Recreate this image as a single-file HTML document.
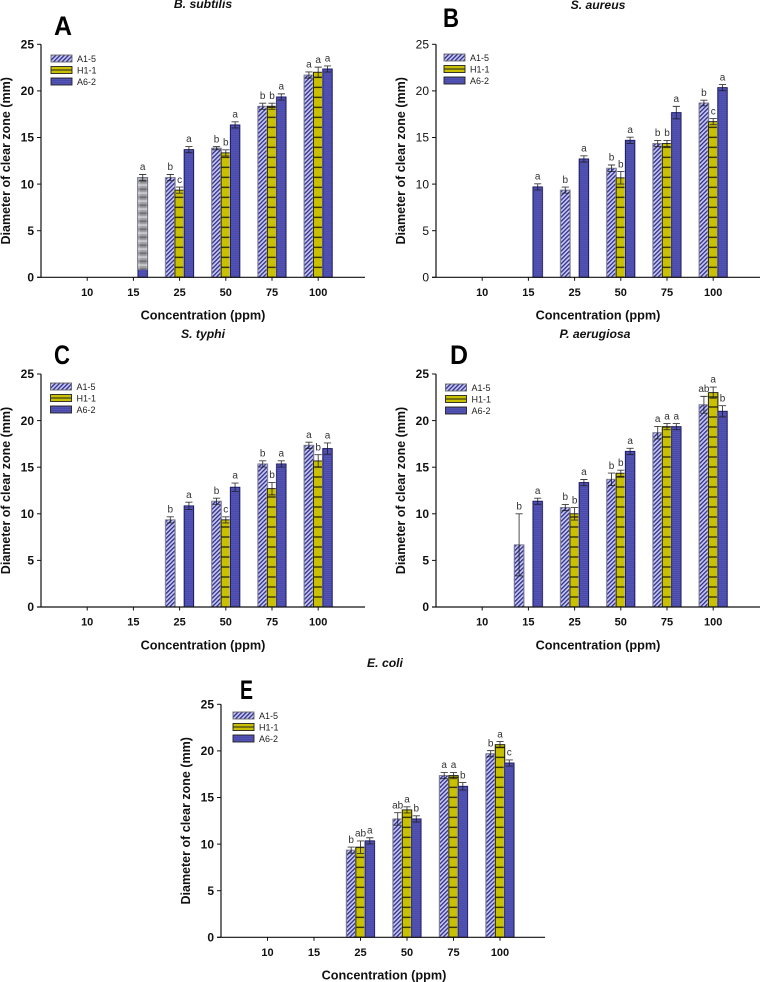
<!DOCTYPE html>
<html lang="en">
<head>
<meta charset="utf-8">
<title>Diameter of clear zone by concentration</title>
<style>
html,body{margin:0;padding:0;background:#fff;}
#figure{display:block;width:760px;height:982px;font-family:"Liberation Sans",Arial,sans-serif;filter:blur(0.35px);}
</style>
</head>
<body>
<svg id="figure" xmlns="http://www.w3.org/2000/svg" width="760" height="982" viewBox="0 0 760 982">
<defs>
<pattern id="hatch" patternUnits="userSpaceOnUse" width="3" height="3" patternTransform="rotate(45)">
<rect width="3" height="3" fill="#c8c8f0"/>
<rect width="1.3" height="3" fill="#2c2c8e"/>
</pattern>
<pattern id="hbars" patternUnits="userSpaceOnUse" width="10" height="10">
<rect width="10" height="10" fill="#c8c000"/>
<rect y="2.4" width="10" height="1.2" fill="#1c1c00"/>
</pattern>
<pattern id="blue" patternUnits="userSpaceOnUse" width="4" height="2">
<rect width="4" height="2" fill="#4a4aab"/>
<rect y="0" width="4" height="0.7" fill="#5858b8"/>
</pattern>
<pattern id="grid" patternUnits="userSpaceOnUse" width="9.3" height="8">
<rect width="9.3" height="8" fill="#a0a0a0"/>
<rect y="0" width="9.3" height="2" fill="#707070"/>
<rect y="4" width="9.3" height="1.6" fill="#cfcfcf"/>
<rect x="3" width="3" height="8" fill="#fff" opacity="0.25"/>
</pattern>
</defs>
</svg>
<script>
// Shared chart data
const categories = ['10', '15', '25', '50', '75', '100'];
const yTickLabels = [0, 5, 10, 15, 20, 25];
const seriesNames = ['A1-5', 'H1-1', 'A6-2'];

// Panel A - B. subtilis
const aA1 = [null, null, 10.7, 13.85, 18.35, 21.7];
const aH1 = [null, null, 9.35, 13.35, 18.35, 22];
const aA6 = [null, 10.7, 13.7, 16.35, 19.35, 22.35];
const aA1Err = [0, 0, 0.33, 0.17, 0.33, 0.33];
const aH1Err = [0, 0, 0.33, 0.33, 0.33, 0.55];
const aA6Err = [0, 0.33, 0.33, 0.33, 0.33, 0.33];
const aA1Let = ['', '', 'b', 'b', 'b', 'a'];
const aH1Let = ['', '', 'c', 'b', 'b', 'a'];
const aA6Let = ['', 'a', 'a', 'a', 'a', 'a'];

// Panel B - S. aureus
const bA1 = [null, null, 9.35, 11.7, 14.35, 18.7];
const bH1 = [null, null, null, 10.67, 14.35, 16.7];
const bA6 = [null, 9.7, 12.7, 14.7, 17.67, 20.35];
const bA1Err = [0, 0, 0.33, 0.35, 0.33, 0.3];
const bH1Err = [0, 0, 0, 0.67, 0.33, 0.33];
const bA6Err = [0, 0.33, 0.33, 0.33, 0.67, 0.33];
const bA1Let = ['', '', 'b', 'b', 'b', 'b'];
const bH1Let = ['', '', '', 'b', 'b', 'c'];
const bA6Let = ['', 'a', 'a', 'a', 'a', 'a'];

// Panel C - S. typhi
const cA1 = [null, null, 9.35, 11.35, 15.35, 17.35];
const cH1 = [null, null, null, 9.35, 12.7, 15.67];
const cA6 = [null, null, 10.85, 12.85, 15.35, 17];
const cA1Err = [0, 0, 0.33, 0.33, 0.33, 0.33];
const cH1Err = [0, 0, 0, 0.33, 0.67, 0.67];
const cA6Err = [0, 0, 0.4, 0.45, 0.33, 0.6];
const cA1Let = ['', '', 'b', 'b', 'b', 'a'];
const cH1Let = ['', '', '', 'c', 'b', 'b'];
const cA6Let = ['', '', 'a', 'a', 'a', 'a'];

// Panel D - P. aerugiosa
const dA1 = [null, 6.67, 10.67, 13.7, 18.7, 21.7];
const dH1 = [null, null, 10, 14.35, 19.35, 23];
const dA6 = [null, 11.35, 13.35, 16.7, 19.35, 21];
const dA1Err = [0, 3.33, 0.33, 0.67, 0.67, 0.9];
const dH1Err = [0, 0, 0.67, 0.33, 0.33, 0.6];
const dA6Err = [0, 0.33, 0.33, 0.33, 0.33, 0.6];
const dA1Let = ['', 'b', 'b', 'b', 'a', 'ab'];
const dH1Let = ['', '', 'b', 'b', 'a', 'a'];
const dA6Let = ['', 'a', 'a', 'a', 'a', 'b'];

// Panel E - E. coli
const eA1 = [null, null, 9.35, 12.7, 17.35, 19.7];
const eH1 = [null, null, 9.67, 13.67, 17.35, 20.67];
const eA6 = [null, null, 10.35, 12.7, 16.2, 18.7];
const eA1Err = [0, 0, 0.33, 0.67, 0.33, 0.33];
const eH1Err = [0, 0, 0.67, 0.33, 0.33, 0.33];
const eA6Err = [0, 0, 0.33, 0.33, 0.4, 0.33];
const eA1Let = ['', '', 'b', 'ab', 'a', 'b'];
const eH1Let = ['', '', 'ab', 'a', 'a', 'a'];
const eA6Let = ['', '', 'a', 'b', 'b', 'c'];

// Grey-patterned section of the 15 ppm bar in panel A (value range)
const aGreyRange = [0.8, 10.7];

const NS = 'http://www.w3.org/2000/svg';
const root = document.getElementById('figure');
const fills = ['url(#hatch)', 'url(#hbars)', 'url(#blue)'];
const strokes = ['#77778f', '#1b1b10', '#1a1a66'];
const W = 324, H = 233, BAR = 9.3;

function yPos(v) { return H - (v / 25) * H; }

function make(tag, attrs, parent, text) {
  const el = document.createElementNS(NS, tag);
  for (const k in attrs) el.setAttribute(k, attrs[k]);
  if (text !== undefined) el.textContent = text;
  parent.appendChild(el);
  return el;
}

function drawPanel(p) {
  const xPos = function (i) { return (i + 1) * p.step; };
  const g = make('g', { transform: 'translate(' + p.x + ',' + p.y + ')' }, root);
  
  

  const letter = make('text', { x: p.letterX - p.x, y: p.letterY - p.y, 'font-size': 27, 'font-weight': 'bold', fill: '#000', textLength: p.letterW, lengthAdjust: 'spacingAndGlyphs' }, g, p.key.toUpperCase());
  
  

  const title = make('text', { x: p.titleX - p.x, y: p.titleY - p.y, 'font-size': 12.2, 'font-weight': 'bold', 'font-style': 'italic', 'text-anchor': 'middle', fill: '#111' }, g, p.title);
  
  

  // bars
  p.values.forEach(function (vals, s) {
    vals.forEach(function (v, i) {
      if (v === null) return;
      const bx = xPos(i) + (s - 1.5) * BAR;
      const shade = make('rect', { x: bx - 0.9, y: yPos(v) - 0.4, width: BAR + 1.8, height: H - yPos(v) + 0.4, fill: '#bdbdc4' }, g);
      
      
      const bar = make('rect', { x: bx, y: yPos(v), width: BAR, height: H - yPos(v), fill: fills[s], stroke: strokes[s], 'stroke-width': 0.9 }, g);
      
      
    });
  });

  // grey overlay section
  if (p.grey) {
    const bx = xPos(1) + 0.5 * BAR;
    const patch = make('rect', { x: bx, y: yPos(p.grey[1]), width: BAR, height: yPos(p.grey[0]) - yPos(p.grey[1]), fill: 'url(#grid)' }, g);
    
    
  }

  // error bars and significance letters
  p.values.forEach(function (vals, s) {
    vals.forEach(function (v, i) {
      if (v === null) return;
      const cx = xPos(i) + (s - 1) * BAR;
      const e = p.errors[s][i];
      const top = yPos(v + e), bot = yPos(v - e);
      const err = make('path', { d: 'M' + (cx - 3.6) + ' ' + top + 'H' + (cx + 3.6) + 'M' + cx + ' ' + top + 'V' + bot + 'M' + (cx - 3.6) + ' ' + bot + 'H' + (cx + 3.6), fill: 'none', stroke: '#1a1a1a', 'stroke-width': 0.9, 'stroke-opacity': 0.85 }, g);
      
      
      const sig = make('text', { x: cx, y: top - 4.3, 'font-size': 10, 'text-anchor': 'middle', fill: '#333' }, g, p.letters[s][i]);
      
      
    });
  });

  // axes
  const yAxis = make('line', { x1: 0, y1: 0, x2: 0, y2: H, stroke: '#111', 'stroke-width': 1.2 }, g);
  
  
  const xAxis = make('line', { x1: -4, y1: H, x2: W, y2: H, stroke: '#111', 'stroke-width': 1.2 }, g);
  
  

  yTickLabels.forEach(function (t) {
    const tick = make('line', { x1: -4, y1: yPos(t), x2: 0, y2: yPos(t), stroke: '#111', 'stroke-width': 1 }, g);
    
    
    const lab = make('text', { x: -7, y: yPos(t) + 4.2, 'font-size': 12, 'font-weight': p.yWeight, 'text-anchor': 'end', fill: '#111' }, g, String(t));
    
    
  });
  categories.forEach(function (c, i) {
    const tick = make('line', { x1: xPos(i), y1: H, x2: xPos(i), y2: H + 3.5, stroke: '#111', 'stroke-width': 1 }, g);
    
    
    const lab = make('text', { x: xPos(i), y: H + 18.7, 'font-size': 11, 'font-weight': 'bold', 'text-anchor': 'middle', fill: '#111' }, g, c);
    
    
  });

  const xt = make('text', { x: p.xTitleX - p.x, y: H + 42.3, 'font-size': 12.7, 'font-weight': 'bold', 'text-anchor': 'middle', fill: '#111' }, g, 'Concentration (ppm)');
  
  
  const yt = make('text', { transform: 'translate(' + (p.yTitleX - p.x) + ',' + (H / 2) + ') rotate(-90)', 'font-size': 12.5, 'font-weight': 'bold', 'text-anchor': 'middle', fill: '#111' }, g, 'Diameter of clear zone (mm)');
  
  

  // legend
  const lg = make('g', { transform: 'translate(' + (p.legX - p.x) + ',' + (p.legY - p.y) + ')' }, g);
  
  
  seriesNames.forEach(function (n, s) {
    const sy = s * 11.5;
    const sw = make('rect', { x: 0, y: sy, width: 21, height: 7, fill: s === 1 ? '#c8c000' : fills[s], stroke: s === 0 ? '#666' : '#222', 'stroke-width': 0.9 }, lg);
    
    
    if (s === 1) {
      const mid = make('line', { x1: 0, y1: sy + 3.5, x2: 21, y2: sy + 3.5, stroke: '#222', 'stroke-width': 0.9 }, lg);
      
      
    }
    const tx = make('text', { x: 26, y: sy + 7, 'font-size': 9, fill: '#222' }, lg, n);
    
    
  });
}

drawPanel({ key: 'a', title: 'B. subtilis', x: 41, y: 44.3, step: 46.2, letterX: 54, letterY: 35, letterW: 18, titleX: 203, titleY: 8, xTitleX: 203, yTitleX: 10, legX: 51, legY: 55, yWeight: 'bold',
  values: [aA1, aH1, aA6], errors: [aA1Err, aH1Err, aA6Err], letters: [aA1Let, aH1Let, aA6Let], grey: aGreyRange });
drawPanel({ key: 'b', title: 'S. aureus', x: 436, y: 44.3, step: 46.2, letterX: 443, letterY: 27, letterW: 16, titleX: 598, titleY: 9, xTitleX: 598, yTitleX: 405, legX: 444, legY: 54, yWeight: 'normal',
  values: [bA1, bH1, bA6], errors: [bA1Err, bH1Err, bA6Err], letters: [bA1Let, bH1Let, bA6Let] });
drawPanel({ key: 'c', title: 'S. typhi', x: 41, y: 374, step: 46.2, letterX: 54, letterY: 364, letterW: 16, titleX: 203, titleY: 338, xTitleX: 203, yTitleX: 10, legX: 50.5, legY: 383, yWeight: 'bold',
  values: [cA1, cH1, cA6], errors: [cA1Err, cH1Err, cA6Err], letters: [cA1Let, cH1Let, cA6Let] });
drawPanel({ key: 'd', title: 'P. aerugiosa', x: 436, y: 374, step: 46.2, letterX: 450, letterY: 364, letterW: 18, titleX: 595, titleY: 338, xTitleX: 598, yTitleX: 405, legX: 445.5, legY: 384, yWeight: 'bold',
  values: [dA1, dH1, dA6], errors: [dA1Err, dH1Err, dA6Err], letters: [dA1Let, dH1Let, dA6Let] });
drawPanel({ key: 'e', title: 'E. coli', x: 221, y: 704.3, step: 46.5, letterX: 240, letterY: 699, letterW: 13, titleX: 385, titleY: 667, xTitleX: 384, yTitleX: 190, legX: 233, legY: 712, yWeight: 'bold',
  values: [eA1, eH1, eA6], errors: [eA1Err, eH1Err, eA6Err], letters: [eA1Let, eH1Let, eA6Let] });
</script>
</body>
</html>
